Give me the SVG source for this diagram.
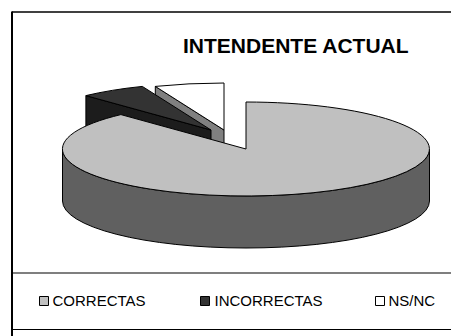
<svg xmlns="http://www.w3.org/2000/svg" width="451" height="336" viewBox="0 0 451 336">
<style>
.s{stroke:#000;stroke-width:1;stroke-linejoin:round}
.lg{font-family:"Liberation Sans",Arial,sans-serif;font-size:15px;fill:#000}
.frame{stroke:#000;fill:none}
</style>
<rect width="451" height="336" fill="#fff"/>
<g id="frame">
<line class="frame" x1="12" y1="12" x2="451" y2="12" stroke-width="1.5"/>
<line class="frame" x1="12" y1="11.5" x2="12" y2="336" stroke-width="2"/>
<line class="frame" x1="12" y1="273" x2="451" y2="273" stroke-width="1.2" stroke="#333"/>
<line class="frame" x1="12" y1="329.5" x2="451" y2="329.5" stroke-width="1.2"/>
</g>
<g id="title">
<text x="183" y="53" font-family="'Liberation Sans',Arial,sans-serif" font-size="21" font-weight="bold">INTENDENTE ACTUAL</text>
</g>
<g id="slice-nsnc">
<polygon class="s" points="155.3,86.4 224,130 224,182 155.3,138.4" fill="#808080"/>
<path class="s" d="M224,130 L155.3,86.4 A183.5,47 0 0,1 224,83 Z" fill="#fff"/>
</g>
<g id="slice-incorrectas">
<polygon class="s" points="85.9,95.6 211,130 211,182 85.9,147.6" fill="#1c1c1c"/>
<path class="s" d="M211,130 L85.9,95.6 A183.5,47 0 0,1 142.3,86.4 Z" fill="#333"/>
</g>
<g id="slice-correctas">
<path class="s" d="M62.5,149 A183.5,47 0 0,0 429.5,149 L429.5,201 A183.5,47 0 0,1 62.5,201 Z" fill="#606060"/>
<path class="s" d="M246,149 L246,102 A183.5,47 0 1,1 120.9,114.6 Z" fill="#c0c0c0"/>
</g>
<g id="legend">
<rect class="s" x="39.5" y="296.5" width="9" height="9" fill="#c0c0c0"/>
<text class="lg" x="52.5" y="305.5">CORRECTAS</text>
<rect class="s" x="200.5" y="296.5" width="9" height="9" fill="#333"/>
<text class="lg" x="214.5" y="305.5">INCORRECTAS</text>
<rect class="s" x="375.5" y="296.5" width="9" height="9" fill="#fff"/>
<text class="lg" x="388.5" y="305.5">NS/NC</text>
</g>
</svg>
